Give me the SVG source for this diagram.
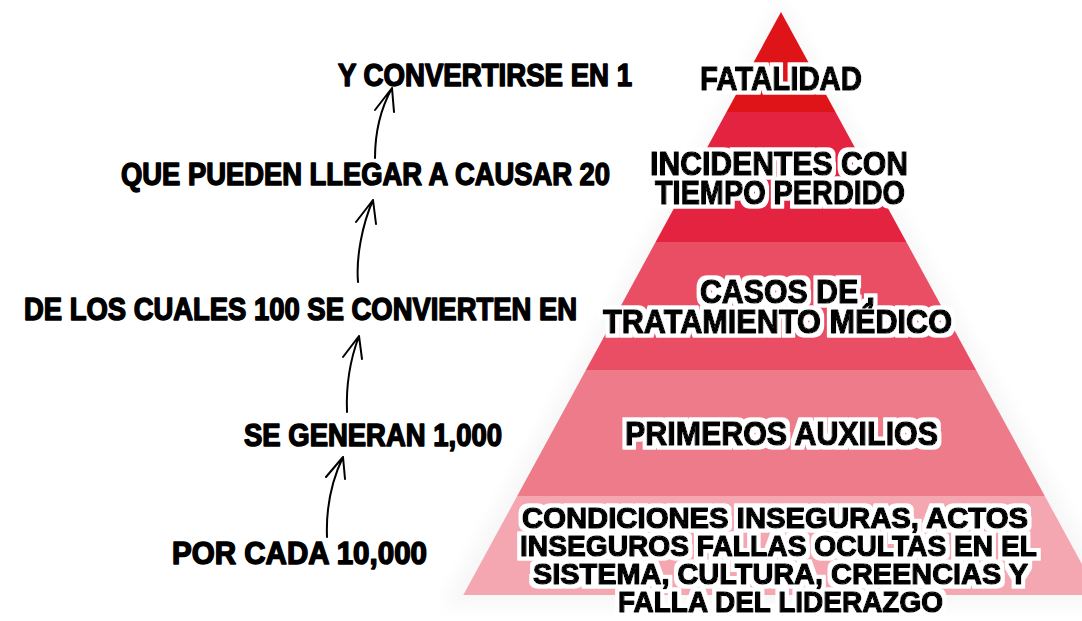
<svg xmlns="http://www.w3.org/2000/svg" width="1082" height="621" viewBox="0 0 1082 621">
<style>
.lbl{font-family:"Liberation Sans",Arial,sans-serif;font-weight:bold;fill:#000;stroke:#000;stroke-width:1.5;stroke-linejoin:round}
.pl{font-family:"Liberation Sans",Arial,sans-serif;font-weight:bold;fill:#000;stroke:#000;stroke-width:1.5;stroke-linejoin:round;filter:url(#halo)}
.arr{fill:none;stroke:#000;stroke-width:2;stroke-linecap:round;stroke-linejoin:round}
</style>
<defs>
<filter id="halo" x="-10%" y="-30%" width="120%" height="160%">
<feMorphology in="SourceAlpha" operator="dilate" radius="3.5" result="d"/>
<feFlood flood-color="#ffffff"/>
<feComposite in2="d" operator="in" result="w"/>
<feMerge><feMergeNode in="w"/><feMergeNode in="SourceGraphic"/></feMerge>
</filter>
<filter id="glow" x="-10%" y="-10%" width="120%" height="120%">
<feGaussianBlur stdDeviation="8"/>
</filter>
</defs>
<rect width="1082" height="621" fill="#ffffff"/>
<g id="pyramid">
<polygon points="781,0 1120,606 442,606" fill="#efefef" opacity="0.5" filter="url(#glow)"/>
<polygon points="781,12 835.5,112 726.5,112" fill="#DF1418"/>
<polygon points="726.5,112 835.5,112 906.4,242 655.6,242" fill="#E42340"/>
<polygon points="655.6,242 906.4,242 976.1,370 585.9,370" fill="#E94E64"/>
<polygon points="585.9,370 976.1,370 1044.8,496 517.2,496" fill="#EE7B89"/>
<polygon points="517.2,496 1044.8,496 1098.7,595 463.3,595" fill="#F4A6B1"/>
</g>
<g id="node-fatalidad"><text class="pl" x="700" y="90" font-size="34" textLength="162" lengthAdjust="spacingAndGlyphs">FATALIDAD</text></g>
<g id="node-incidentes">
<text class="pl" font-size="34"><tspan x="650" y="175" textLength="258" lengthAdjust="spacingAndGlyphs">INCIDENTES CON</tspan><tspan x="655" y="204" textLength="250" lengthAdjust="spacingAndGlyphs">TIEMPO PERDIDO</tspan></text>
</g>
<g id="node-casos">
<text class="pl" font-size="34"><tspan x="700" y="303" textLength="175" lengthAdjust="spacingAndGlyphs">CASOS DE ,</tspan><tspan x="603" y="333" textLength="349" lengthAdjust="spacingAndGlyphs">TRATAMIENTO MÉDICO</tspan></text>
</g>
<g id="node-primeros"><text class="pl" x="625" y="445" font-size="34" textLength="313" lengthAdjust="spacingAndGlyphs">PRIMEROS AUXILIOS</text></g>
<g id="node-condiciones">
<text class="pl" font-size="29"><tspan x="522" y="528" textLength="506" lengthAdjust="spacingAndGlyphs">CONDICIONES INSEGURAS, ACTOS</tspan><tspan x="520" y="556" textLength="517" lengthAdjust="spacingAndGlyphs">INSEGUROS FALLAS OCULTAS EN EL</tspan><tspan x="533" y="584" textLength="495" lengthAdjust="spacingAndGlyphs">SISTEMA, CULTURA, CREENCIAS Y</tspan><tspan x="618" y="612" textLength="325" lengthAdjust="spacingAndGlyphs">FALLA DEL LIDERAZGO</tspan></text>
</g>
<g id="label-1"><text class="lbl" x="338" y="86" font-size="31" textLength="294" lengthAdjust="spacingAndGlyphs">Y CONVERTIRSE EN 1</text></g>
<g id="label-20"><text class="lbl" x="121" y="185" font-size="31" textLength="489" lengthAdjust="spacingAndGlyphs">QUE PUEDEN LLEGAR A CAUSAR 20</text></g>
<g id="label-100"><text class="lbl" x="24" y="320" font-size="31" textLength="553" lengthAdjust="spacingAndGlyphs">DE LOS CUALES 100 SE CONVIERTEN EN</text></g>
<g id="label-1000"><text class="lbl" x="244" y="446" font-size="31" textLength="258" lengthAdjust="spacingAndGlyphs">SE GENERAN 1,000</text></g>
<g id="label-10000"><text class="lbl" x="172" y="564" font-size="31" textLength="255" lengthAdjust="spacingAndGlyphs">POR CADA 10,000</text></g>
<g id="connectors">
<path class="arr" d="M327,537 C326,510 331,482 343,457 M326,477 L343,457 L345,479"/>
<path class="arr" d="M347,412 C346,388 350,360 359,336 M343,357 L359,336 L362,359"/>
<path class="arr" d="M358,282 C356,258 362,225 373,200 M356,222 L373,200 L376,224"/>
<path class="arr" d="M375,158 C375,133 381,108 392,88 M375,110 L392,88 L394,112"/>
</g>
</svg>
